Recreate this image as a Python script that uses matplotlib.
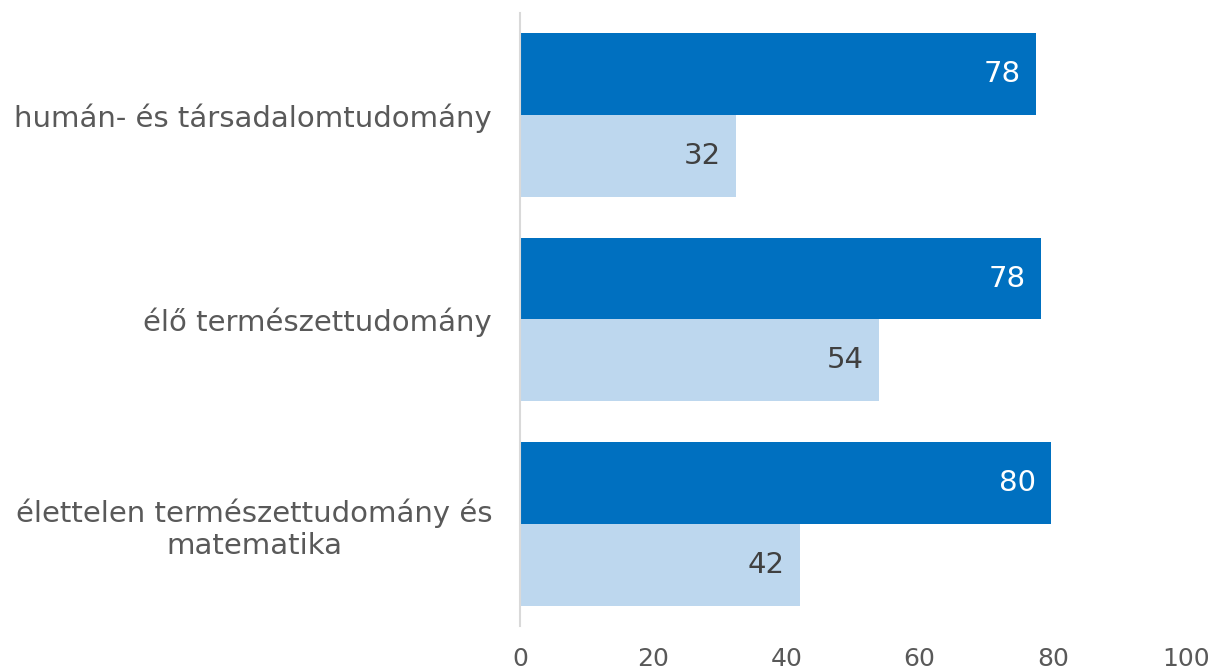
import numpy as np
import matplotlib.pyplot as plt

categories = ["humán- és társadalomtudomány",
              "élő természettudomány",
              "élettelen természettudomány és\nmatematika"]
dark_vals = [77.5, 78.2, 79.7]
light_vals = [32.4, 53.9, 42.0]
xticks = [0, 20, 40, 60, 80, 100]

dark_col = "#0070C0"
light_col = "#BDD7EE"
gray = "#595959"

fig = plt.figure(figsize=(12.13, 6.69), dpi=100)
ax = fig.add_axes([0.4287, 0.0643, 0.5491, 0.9163])

y = np.arange(len(categories))
h = 0.4
ax.barh(y - h / 2, dark_vals, height=h, color=dark_col)
ax.barh(y + h / 2, light_vals, height=h, color=light_col)

# value labels inside the bar ends
for yi, v in zip(y, dark_vals):
    ax.annotate(f"{v:.0f}", (v, yi - h / 2), xytext=(-11, 0), textcoords="offset points",
                ha="right", va="center", fontsize=21, color="white")
for yi, v in zip(y, light_vals):
    ax.annotate(f"{v:.0f}", (v, yi + h / 2), xytext=(-11, 0), textcoords="offset points",
                ha="right", va="center", fontsize=21, color="#404040")

ax.set_xlim(0, 100)
ax.set_ylim(2.5, -0.5)
ax.set_xticks(xticks)
ax.set_yticks(y)
ax.set_yticklabels(categories, multialignment="center")

ax.tick_params(axis="x", length=0, pad=15, labelsize=18, labelcolor=gray)
ax.tick_params(axis="y", length=0, pad=20, labelsize=21, labelcolor=gray)

for s in ["top", "right", "bottom"]:
    ax.spines[s].set_visible(False)
ax.spines["left"].set_color("#D9D9D9")
ax.spines["left"].set_linewidth(1.5)

fig.savefig("out.png", dpi=100)
